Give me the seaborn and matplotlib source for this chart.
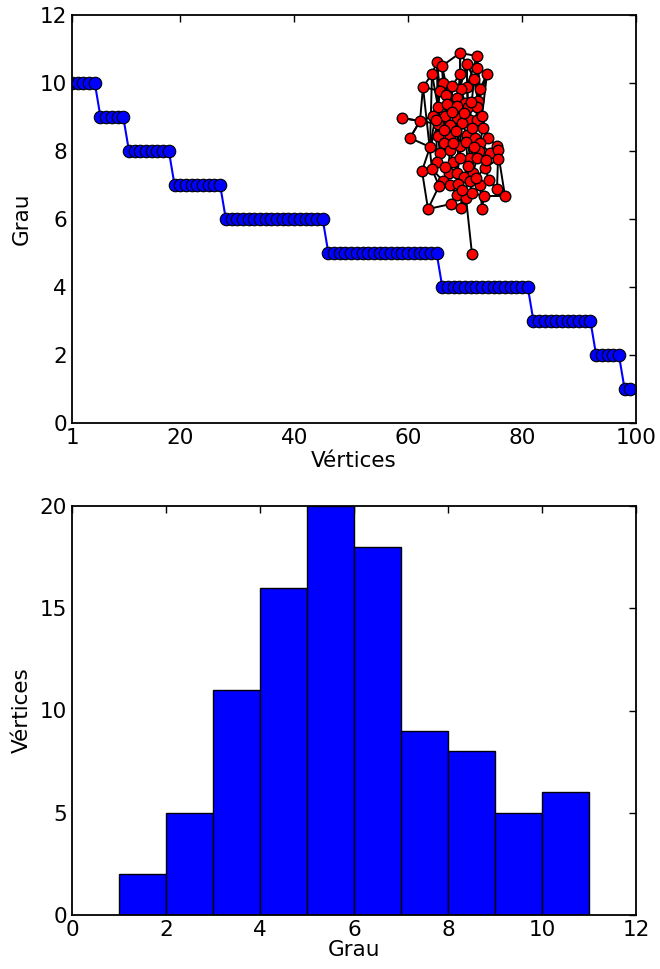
'''
Degree sequence and degree histogram of a random graph
'''
import numpy as np
import pandas as pd
import matplotlib
matplotlib.use("Agg")
import matplotlib.pyplot as plt
import seaborn as sns

# degree values and how many vertices have each one
grau_vals = [10, 9, 8, 7, 6, 5, 4, 3, 2, 1]
n_vertices = [6, 5, 8, 9, 18, 20, 16, 11, 5, 2]

# inset graph drawing: node layout (estimated) and edge list
node_x = [0.60, 0.77, 0.37, 0.42, 0.67, 0.77, 0.32, 0.60, 0.87, 0.23,
          0.43, 0.67, 0.61, 0.40, 0.46, 0.80, 0.57, 0.65, 0.78, 0.38,
          0.47, 0.57, 0.68, 0.77, 0.02, 0.20, 0.33, 0.45, 0.57, 0.70,
          0.77, 0.82, 0.38, 0.50, 0.62, 0.83, 0.10, 0.38, 0.50, 0.67,
          0.75, 0.88, 0.30, 0.44, 0.60, 0.80, 0.97, 0.40, 0.50, 0.70,
          0.79, 0.90, 0.98, 0.98, 0.37, 0.53, 0.60, 0.77, 0.22, 0.32,
          0.49, 0.57, 0.64, 0.73, 0.85, 0.43, 0.50, 0.58, 0.70, 0.80,
          0.89, 0.97, 1.05, 0.57, 0.66, 0.72, 0.28, 0.51, 0.61, 0.82,
          0.72, 0.52, 0.64, 0.72, 0.44, 0.56, 0.66, 0.53, 0.74, 0.86,
          0.45, 0.68, 0.76, 0.62, 0.84, 0.39, 0.71, 0.52, 0.74, 0.36]
node_y = [2.07, 2.04, 1.98, 1.94, 1.96, 1.92, 1.86, 1.86, 1.86, 1.73,
          1.77, 1.73, 1.71, 1.69, 1.65, 1.71, 1.62, 1.57, 1.59, 1.53,
          1.56, 1.54, 1.53, 1.53, 1.42, 1.39, 1.44, 1.44, 1.42, 1.40,
          1.40, 1.44, 1.36, 1.35, 1.37, 1.32, 1.22, 1.24, 1.23, 1.25,
          1.22, 1.22, 1.13, 1.17, 1.14, 1.17, 1.14, 1.07, 1.10, 1.02,
          1.09, 1.07, 1.10, 1.01, 0.98, 0.98, 1.02, 1.02, 0.89, 0.91,
          0.87, 0.87, 0.83, 0.87, 0.92, 0.79, 0.75, 0.76, 0.79, 0.75,
          0.80, 0.71, 0.64, 0.65, 0.62, 0.67, 0.51, 0.56, 0.52, 0.51,
          0.06, 1.48, 1.47, 1.32, 1.30, 1.29, 1.18, 1.17, 1.13, 1.00,
          0.93, 0.94, 0.82, 0.70, 0.64, 0.74, 1.58, 1.74, 1.81, 1.40]
edges = [(0, 1), (0, 3), (0, 7), (0, 12), (0, 4), (1, 5), (1, 11), (1, 15),
         (2, 3), (2, 6), (2, 13), (3, 10), (3, 14), (4, 5), (4, 11), (4, 16),
         (5, 8), (5, 18), (6, 9), (6, 19), (6, 10), (7, 12), (7, 97), (7, 21),
         (8, 15), (8, 23), (8, 31), (9, 25), (9, 13), (10, 97), (10, 20),
         (11, 98), (11, 22), (12, 16), (12, 17), (13, 19), (13, 26), (14, 20),
         (14, 27), (14, 16), (15, 18), (15, 30), (16, 81), (16, 21), (17, 22),
         (17, 82), (17, 96), (18, 96), (18, 23), (19, 26), (19, 32), (20, 81),
         (20, 27), (21, 28), (21, 34), (22, 29), (22, 96), (23, 30), (23, 35),
         (24, 25), (24, 32), (25, 36), (25, 26), (26, 37), (26, 27), (27, 84),
         (27, 33), (28, 85), (28, 82), (28, 34), (29, 83), (29, 39), (30, 40),
         (30, 31), (31, 35), (31, 41), (32, 37), (32, 42), (33, 38), (33, 85),
         (34, 39), (34, 44), (35, 41), (35, 45), (36, 42), (37, 43), (37, 99),
         (38, 87), (38, 43), (39, 86), (39, 40), (40, 88), (40, 45), (41, 46),
         (41, 50), (42, 47), (42, 58), (43, 48), (43, 54), (44, 87), (44, 56),
         (44, 86), (45, 50), (45, 51), (46, 52), (46, 72), (47, 54), (47, 48),
         (48, 55), (48, 87), (49, 56), (49, 88), (49, 91), (50, 57), (50, 89),
         (51, 52), (51, 89), (52, 53), (53, 64), (53, 71), (54, 59), (54, 90),
         (55, 60), (55, 56), (56, 61), (57, 63), (57, 89), (58, 59), (58, 76),
         (59, 95), (59, 65), (60, 61), (60, 65), (61, 62), (61, 67), (62, 91),
         (62, 68), (63, 68), (63, 92), (64, 70), (64, 92), (65, 66), (65, 95),
         (66, 73), (66, 67), (67, 93), (68, 75), (68, 69), (69, 79), (69, 70),
         (70, 71), (71, 72), (73, 77), (73, 74), (74, 78), (74, 80), (75, 93),
         (75, 94), (76, 77), (77, 78), (78, 93), (79, 94), (81, 97), (81, 82),
         (82, 96), (83, 40), (83, 88), (84, 85), (84, 99), (85, 87), (3, 44),
         (2, 37), (6, 42), (12, 61), (11, 63), (1, 30), (98, 18), (98, 4),
         (98, 29), (97, 12), (13, 42), (99, 54), (99, 47), (90, 66), (90, 60),
         (91, 74), (92, 69), (94, 72), (95, 76), (93, 77), (86, 91), (89, 64),
         (88, 57), (83, 45), (85, 44), (27, 32), (20, 16), (21, 12), (9, 59),
         (19, 43), (23, 40), (36, 25), (33, 60), (39, 49), (16, 34), (10, 14)]

# sorted degree sequence, one value per vertex
grau_seq = np.repeat(grau_vals, n_vertices)
df_seq = pd.DataFrame({"vertice": np.arange(len(grau_seq)), "grau": grau_seq})

sns.set_style("white")
plt.rcParams.update({
    "font.family": ["DejaVu Sans"],
    "font.size": 15.5,
    "text.color": "black",
    "axes.labelcolor": "black",
    "xtick.color": "black",
    "ytick.color": "black",
    "xtick.direction": "in",
    "ytick.direction": "in",
    "xtick.top": True,
    "ytick.right": True,
    "xtick.major.size": 5,
    "ytick.major.size": 5,
    "xtick.major.width": 1.0,
    "ytick.major.width": 1.0,
    "axes.edgecolor": "black",
    "axes.linewidth": 1.3,
})

W, H = 660, 969
fig = plt.figure(figsize=(W / 100, H / 100), dpi=100)

# top: degree sequence
ax1 = fig.add_axes([72 / W, 1 - 423 / H, 564 / W, 408 / H])
sns.lineplot(data=df_seq, x="vertice", y="grau", ax=ax1, color="blue",
             lw=1.5, marker="o", markersize=9, markerfacecolor="blue",
             markeredgecolor="black", markeredgewidth=0.8)
ax1.set_xlim(1, 100)
ax1.set_ylim(0, 12)
ax1.set_xticks([1, 20, 40, 60, 80, 100])
ax1.set_yticks(range(0, 13, 2))
ax1.set_xlabel("Vértices", labelpad=2)
ax1.set_ylabel("Grau", labelpad=6)

# inset: graph drawing
ax_in = fig.add_axes([390 / W, (H - 265) / H, 125 / W, 230 / H])
for a, b in edges:
    ax_in.plot([node_x[a], node_x[b]], [node_y[a], node_y[b]],
               color="black", lw=1.4, zorder=1)
sns.scatterplot(x=node_x, y=node_y, ax=ax_in, color="red", s=58,
                edgecolor="black", linewidth=1.0, zorder=2)
ax_in.set_xlim(-0.10, 1.15)
ax_in.set_ylim(-0.05, 2.25)
ax_in.axis("off")

# bottom: degree histogram
ax2 = fig.add_axes([72 / W, 1 - 915 / H, 564 / W, 409 / H])
sns.histplot(x=grau_seq, bins=range(1, 12), ax=ax2, color="blue",
             edgecolor="black", linewidth=1.0, alpha=1)
ax2.set_xlim(0, 12)
ax2.set_ylim(0, 20)
ax2.set_xticks(range(0, 13, 2))
ax2.set_yticks(range(0, 21, 5))
ax2.set_xlabel("Grau", labelpad=0)
ax2.set_ylabel("Vértices", labelpad=6)

for ax in (ax1, ax2):
    for s in ax.spines.values():
        s.set_visible(True)

fig.savefig("out.png", dpi=100)
